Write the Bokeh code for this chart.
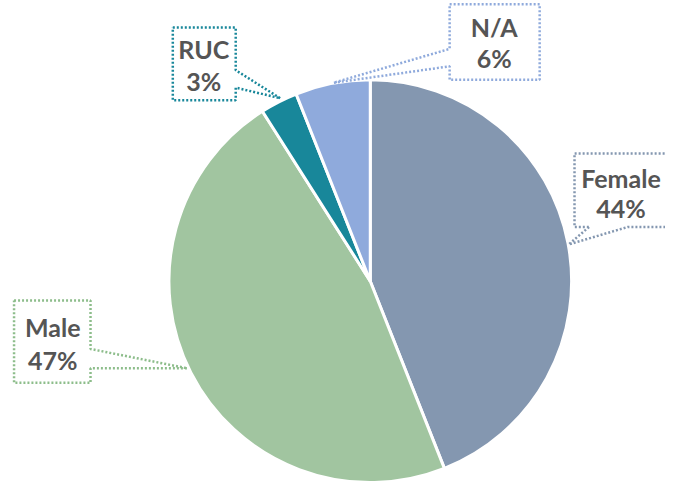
import math
from bokeh.plotting import figure
from bokeh.models import Range1d, ColumnDataSource
from bokeh.core.properties import value
from bokeh.embed import file_html
from bokeh.resources import INLINE

# ---- data ----
categories = ["Female", "Male", "RUC", "N/A"]
shares = [44, 47, 3, 6]
slice_colors = ["#8497B0", "#A1C5A0", "#18879A", "#8FAADC"]
callout_colors = ["#8497B0", "#8DBD8B", "#18879A", "#8FAADC"]

# ---- layout (reference pixel space, y measured from top) ----
W, H = 687, 499
SCALE = 483 / H
CX, CY, R = 382, 290, 208

# callout geometry per category: wedge-callout outline path, text centre
callouts = {
    "Female": dict(path=[(608, 234), (587, 252), (648, 234), (695, 234), (695, 158),
                         (593, 158), (593, 234), (608, 234)], tx=641, ty1=183, ty2=214),
    "Male": dict(path=[(14, 310), (93, 310), (93, 360), (193, 380), (93, 380), (93, 395),
                       (14, 395), (14, 310)], tx=54, ty1=337, ty2=371),
    "RUC": dict(path=[(178, 28), (243, 28), (243, 72), (289, 101), (243, 90), (243, 103),
                      (178, 103), (178, 28)], tx=210, ty1=50, ty2=83),
    "N/A": dict(path=[(464, 4), (557, 4), (557, 82), (464, 82), (464, 68), (344, 85),
                      (464, 50), (464, 4)], tx=510, ty1=27, ty2=59),
}

p = figure(width=round(W * SCALE), height=483, x_range=Range1d(0, W), y_range=Range1d(0, H),
           output_backend="svg", toolbar_location=None, min_border=0,
           x_axis_location=None, y_axis_location=None)
p.grid.visible = False
p.outline_line_color = None
p.background_fill_color = "white"

total = sum(shares)
starts, ends = [], []
cum = 0
for s in shares:
    starts.append(math.pi / 2 - 2 * math.pi * cum / total)
    cum += s
    ends.append(math.pi / 2 - 2 * math.pi * cum / total)

src = ColumnDataSource(dict(x=[CX] * len(shares), y=[H - CY] * len(shares),
                            start=starts, end=ends, color=slice_colors))
p.wedge(x="x", y="y", radius=R, start_angle="start", end_angle="end", direction="clock",
        fill_color="color", line_color="white", line_width=3, source=src)

for cat, share, col in zip(categories, shares, callout_colors):
    c = callouts[cat]
    xs = [pt[0] for pt in c["path"]]
    ys = [H - pt[1] for pt in c["path"]]
    p.line(xs, ys, line_color=col, line_width=2.5, line_dash="2 2", line_cap="butt")
    p.text(x=[c["tx"], c["tx"]], y=[H - c["ty1"], H - c["ty2"]],
           text=[cat, f"{share}%"], text_align="center", text_baseline="middle",
           text_font=value("Lato"), text_font_style="bold", text_font_size="25px",
           text_color="#555555")

open("out.html", "w").write(file_html(p, INLINE))
